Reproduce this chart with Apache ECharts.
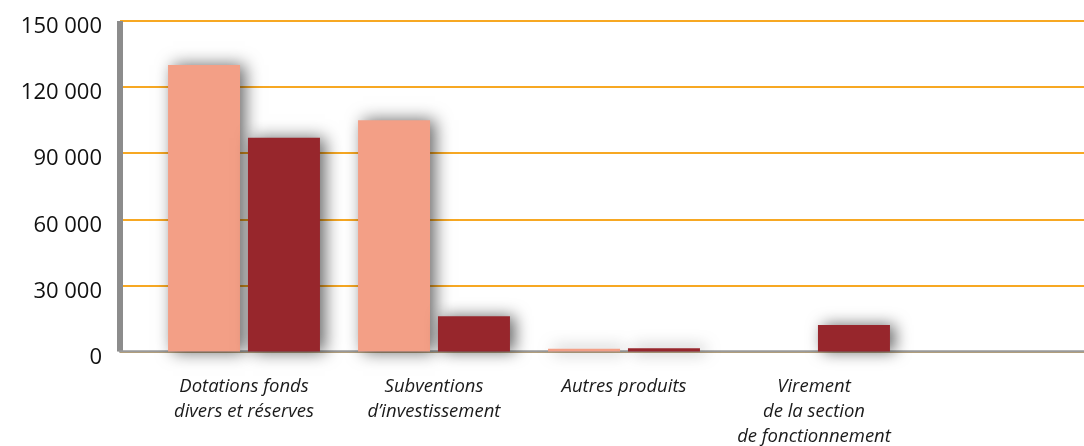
<!DOCTYPE html>
<html>
<head>
<meta charset="utf-8">
<script src="https://cdn.jsdelivr.net/npm/echarts@6/dist/echarts.min.js"></script>
<style>
html,body{margin:0;padding:0;background:#fff;}
#c{width:1084px;height:446px;}
</style>
</head>
<body>
<div id="c"></div>
<script>
const categories = ['Dotations fonds\ndivers et réserves', 'Subventions\nd\u2019investissement', 'Autres produits', 'Virement\nde la section\nde fonctionnement'];
const seriesLight = [130000, 105000, 1200, 0];
const seriesDark = [97000, 16000, 1500, 12000];
const yTicks = {min: 0, max: 150000, interval: 30000};

function fmt(v){ return String(v).replace(/\B(?=(\d{3})+(?!\d))/g, ' '); }

const chart = echarts.init(document.getElementById('c'), null, {renderer: 'canvas'});
const shadow = {shadowBlur: 16, shadowColor: 'rgba(0,0,0,0.6)', shadowOffsetX: 5, shadowOffsetY: 0};
chart.setOption({
  animation: false,
  grid: [
    {left: 120, right: 0, top: 21, height: 330.5, outerBoundsMode: 'none', containLabel: false},
    {left: 149, width: 760, top: 21, height: 330.5, outerBoundsMode: 'none', containLabel: false},
    {left: 120, right: 0, top: 27, height: 330.5, outerBoundsMode: 'none', containLabel: false}
  ],
  xAxis: [
    {gridIndex: 0, type: 'value', min: 0, max: 1, axisLabel: {show: false}, axisTick: {show: false}, splitLine: {show: false},
     axisLine: {show: true, lineStyle: {color: '#9a9a9a', width: 2.5}}},
    {gridIndex: 1, type: 'category', data: categories,
     axisLine: {show: false}, axisTick: {show: false},
     axisLabel: {margin: 23, fontFamily: 'Open Sans', fontStyle: 'italic', fontSize: 18.5, lineHeight: 25, color: '#1a1a1a', interval: 0}},
    {gridIndex: 2, type: 'value', min: 0, max: 1, show: false}
  ],
  yAxis: [
    {gridIndex: 0, type: 'value', min: yTicks.min, max: yTicks.max, interval: yTicks.interval,
     axisLine: {show: true, lineStyle: {color: '#8c8c8c', width: 6, cap: 'butt'}}, axisTick: {show: false},
     axisLabel: {show: false},
     splitLine: {show: true, lineStyle: {color: '#F7A823', width: 2}}},
    {gridIndex: 1, type: 'value', min: yTicks.min, max: yTicks.max, interval: yTicks.interval,
     axisLine: {show: false}, axisTick: {show: false}, axisLabel: {show: false}, splitLine: {show: false}},
    {gridIndex: 2, type: 'value', min: yTicks.min, max: yTicks.max, interval: yTicks.interval,
     axisLine: {show: false}, axisTick: {show: false}, splitLine: {show: false},
     axisLabel: {formatter: fmt, fontFamily: 'Open Sans', fontSize: 22, color: '#111', margin: 18}}
  ],
  series: [
    {type: 'bar', xAxisIndex: 1, yAxisIndex: 1, data: seriesLight, barWidth: 72, barGap: '11%',
     itemStyle: Object.assign({color: '#F39F86'}, shadow)},
    {type: 'bar', xAxisIndex: 1, yAxisIndex: 1, data: seriesDark, barWidth: 72, barGap: '11%',
     itemStyle: Object.assign({color: '#97262C'}, shadow)}
  ]
});
</script>
</body>
</html>
